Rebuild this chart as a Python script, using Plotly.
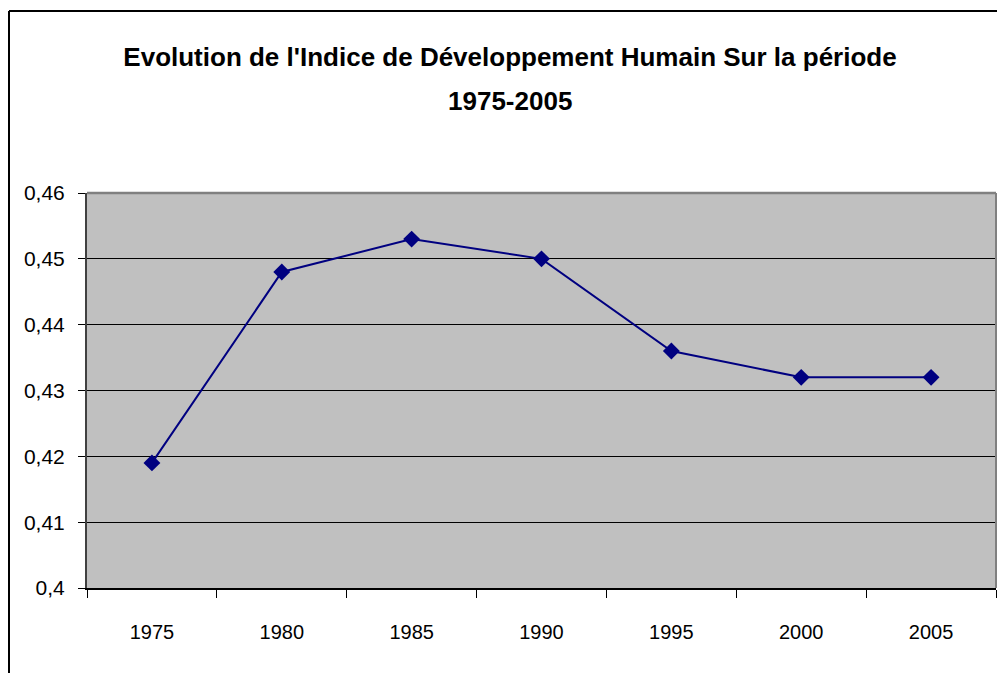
import plotly.graph_objects as go

years = ["1975", "1980", "1985", "1990", "1995", "2000", "2005"]
idh = [0.419, 0.448, 0.453, 0.450, 0.436, 0.432, 0.432]
y_tickvals = [0.40, 0.41, 0.42, 0.43, 0.44, 0.45, 0.46]
y_ticktext = ["0,4", "0,41", "0,42", "0,43", "0,44", "0,45", "0,46"]
title_line1 = "Evolution de l'Indice de Développement Humain Sur la période"
title_line2 = "1975-2005"

W, H = 997, 673
L, R, T, B = 87, 1, 193, 85
pw = W - L - R
ph = H - T - B

font = "Liberation Sans Narrow, Arial Narrow, Liberation Sans, Arial, sans-serif"

fig = go.Figure()
fig.add_trace(go.Scatter(
    x=years, y=idh, mode="lines+markers",
    line=dict(color="#000080", width=2),
    marker=dict(symbol="diamond", size=13, color="#000080"),
    hoverinfo="x+y", showlegend=False,
))

fig.update_layout(
    width=W, height=H,
    margin=dict(l=L, r=R, t=T, b=B, pad=0),
    paper_bgcolor="white",
    plot_bgcolor="#C0C0C0",
    title=dict(
        text=title_line1,
        x=(510 - L) / pw, xref="paper", xanchor="center",
        y=1 - 57 / H, yref="container", yanchor="middle",
        font=dict(family=font, size=26, color="black", weight="bold"),
    ),
    annotations=[
        dict(text=title_line2, xref="paper", yref="paper",
             x=(510 - L) / pw, y=1 + (T - 101) / ph,
             xanchor="center", yanchor="middle", showarrow=False,
             font=dict(family=font, size=26, color="black", weight="bold")),
    ],
    xaxis=dict(
        type="category",
        range=[-0.5, 6.5],
        tickson="boundaries",
        ticks="outside", ticklen=8, tickcolor="black", tickwidth=1,
        showgrid=False, zeroline=False,
        showline=True, linecolor="black", linewidth=2,
        tickfont=dict(family=font, size=20, color="black"),
        ticklabelstandoff=25,
    ),
    yaxis=dict(
        range=[0.40, 0.46],
        tickvals=y_tickvals, ticktext=y_ticktext,
        ticks="outside", ticklen=7, tickcolor="black", tickwidth=1,
        showgrid=True, gridcolor="black", gridwidth=1,
        zeroline=False,
        showline=True, linecolor="#404040", linewidth=2,
        tickfont=dict(family=font, size=21, color="black"),
        ticklabelstandoff=9,
    ),
    shapes=[
        dict(type="line", xref="paper", yref="paper", x0=0, x1=1, y0=1, y1=1,
             line=dict(color="#808080", width=2.5)),
        dict(type="line", xref="paper", yref="paper", x0=1, x1=1, y0=0, y1=1,
             line=dict(color="#808080", width=2)),
        dict(type="line", xref="paper", yref="paper",
             x0=(9 - L) / pw, x1=(9 - L) / pw,
             y0=-(B + 10) / ph, y1=1 + (T - 11) / ph,
             line=dict(color="black", width=2)),
        dict(type="line", xref="paper", yref="paper",
             x0=(9 - L) / pw, x1=1 + 10 / pw,
             y0=1 + (T - 11) / ph, y1=1 + (T - 11) / ph,
             line=dict(color="black", width=2)),
    ],
)

fig.write_html("out.html", config={"displayModeBar": False},
               post_script="document.body.style.margin='0';")
